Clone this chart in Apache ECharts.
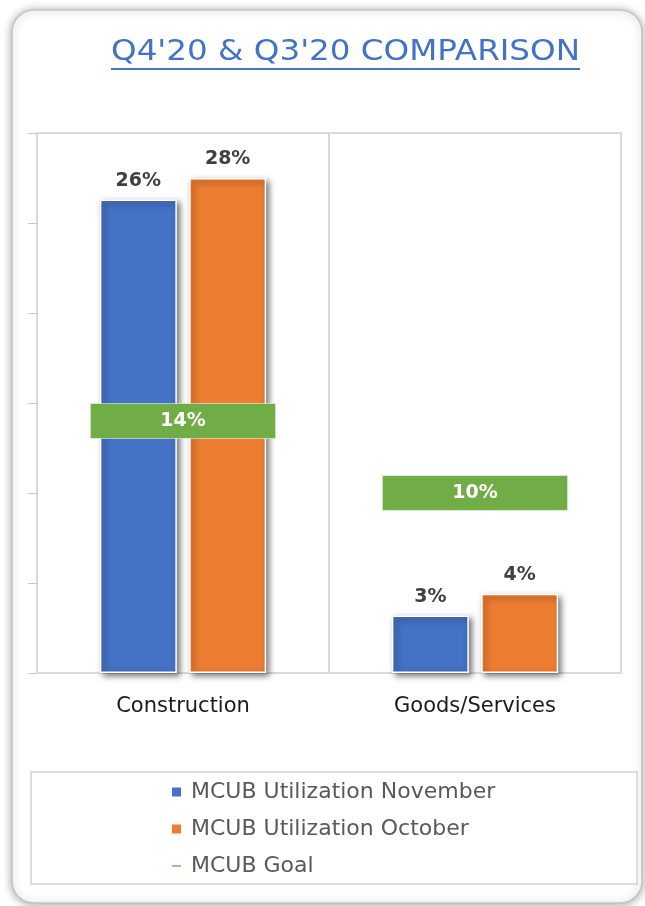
<!DOCTYPE html>
<html>
<head>
<meta charset="utf-8">
<script src="https://cdn.jsdelivr.net/npm/echarts@6/dist/echarts.min.js"></script>
<style>
html,body{margin:0;padding:0;background:#fff;}
#chart{width:645px;height:906px;}
</style>
</head>
<body>
<div id="chart"></div>
<script>
const categories = ['Construction', 'Goods/Services'];
const novemberValues = [26.3, 3.2];
const octoberValues = [27.5, 4.4];
const goalValues = [14, 10];
const seriesNames = ['MCUB Utilization November', 'MCUB Utilization October', 'MCUB Goal'];
const titleText = "Q4'20 & Q3'20 COMPARISON";

const FONT = 'DejaVu Sans';
const titleSize = 29;
const cv = document.createElement('canvas').getContext('2d');
cv.font = titleSize + 'px "' + FONT + '"';
const tw = cv.measureText(titleText).width;
const targetW = 469;
const sx = targetW / tw;
const tcx = 345.5;

const chart = echarts.init(document.getElementById('chart'));
const barShadow = {
  borderColor: '#fff', borderWidth: 1.5,
  shadowColor: 'rgba(0,0,0,0.55)', shadowBlur: 6, shadowOffsetX: 3, shadowOffsetY: 3
};
const pct = p => Math.round(p.value) + '%';

chart.setOption({
  backgroundColor: '#fff',
  animation: false,
  graphic: [
    { type: 'rect', z: -10, shape: { x: 12, y: 10, width: 630, height: 893, r: 22 },
      style: { fill: '#fff', stroke: '#c4c4c4', lineWidth: 1.5,
        shadowColor: 'rgba(0,0,0,0.35)', shadowBlur: 8, shadowOffsetX: 0, shadowOffsetY: 1 } },
    { type: 'text', z: 10, x: tcx, y: 52, scaleX: sx, scaleY: 1,
      style: { text: titleText, fill: '#4472C4', font: titleSize + 'px "' + FONT + '"', align: 'center', verticalAlign: 'middle' } },
    { type: 'line', z: 10, shape: { x1: tcx - targetW / 2, y1: 69, x2: tcx + targetW / 2, y2: 69 },
      style: { stroke: '#4472C4', lineWidth: 2 } },
    { type: 'rect', z: -5, shape: { x: 31, y: 772, width: 606, height: 112 },
      style: { fill: '#fff', stroke: '#d4d4d4', lineWidth: 1.5 } }
  ],
  grid: { left: 37, right: 24, top: 133, bottom: 233, show: true, borderColor: '#d0d0d0', borderWidth: 1.5, backgroundColor: 'transparent' },
  legend: {
    orient: 'vertical', left: 172, top: 781, padding: 0, itemGap: 15, itemWidth: 9, itemHeight: 9,
    itemStyle: { borderWidth: 0, shadowBlur: 0, shadowOffsetX: 0, shadowOffsetY: 0, shadowColor: 'transparent' },
    textStyle: { fontFamily: FONT, fontSize: 22, color: '#595959', padding: [0, 0, 0, 5] },
    data: [
      { name: seriesNames[0], icon: 'rect' },
      { name: seriesNames[1], icon: 'rect' },
      { name: seriesNames[2], icon: 'path://M0,0L10,0L10,1.5L0,1.5Z' }
    ]
  },
  xAxis: {
    type: 'category', data: categories,
    axisLine: { show: false }, axisTick: { show: false },
    splitLine: { show: true, lineStyle: { color: '#d9d9d9', width: 2 } },
    axisLabel: { margin: 23, fontFamily: FONT, fontSize: 21, color: '#1a1a1a' }
  },
  yAxis: {
    type: 'value', min: 0, max: 30, interval: 5,
    axisLine: { show: false },
    axisTick: { show: true, length: 9, lineStyle: { color: '#c8c8c8', width: 1 } },
    axisLabel: { show: false },
    splitLine: { show: false }
  },
  series: [
    { name: seriesNames[0], type: 'bar', data: novemberValues, barWidth: 77, barGap: '16%',
      itemStyle: Object.assign({ color: '#4472C4' }, barShadow),
      label: { show: true, position: 'top', distance: 9, formatter: pct, fontFamily: FONT, fontWeight: 'bold', fontSize: 19, color: '#404040' } },
    { name: seriesNames[1], type: 'bar', data: octoberValues, barWidth: 77,
      itemStyle: Object.assign({ color: '#ED7D31' }, barShadow),
      label: { show: true, position: 'top', distance: 9, formatter: pct, fontFamily: FONT, fontWeight: 'bold', fontSize: 19, color: '#404040' } },
    { name: seriesNames[2], type: 'scatter', data: goalValues, z: 5,
      symbol: 'rect', symbolSize: [187, 35],
      itemStyle: { color: '#70AD47', borderColor: '#fff', borderWidth: 1, opacity: 1 },
      label: { show: true, position: 'inside', formatter: pct, fontFamily: FONT, fontWeight: 'bold', fontSize: 19, color: '#fff' } }
  ]
});
</script>
</body>
</html>
